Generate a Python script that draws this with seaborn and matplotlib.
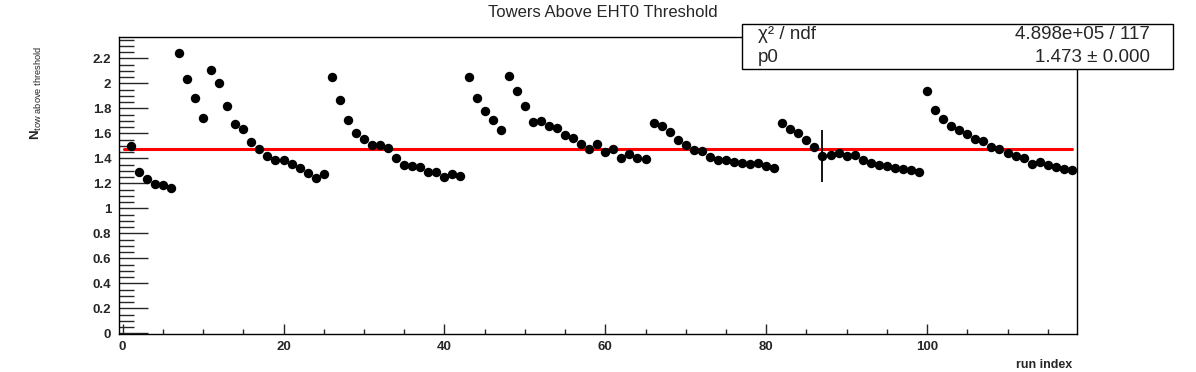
import numpy as np
import pandas as pd
import matplotlib
matplotlib.use("Agg")
import matplotlib.pyplot as plt
from matplotlib.ticker import MultipleLocator, FormatStrFormatter
from matplotlib.patches import Rectangle
import seaborn as sns

# run index and mean number of towers above EHT0 threshold
run_index = np.arange(1, 119)
n_tow = [
    1.501, 1.288, 1.234, 1.197, 1.184, 1.160, 2.240, 2.032, 1.880, 1.720,
    2.106, 2.000, 1.816, 1.672, 1.632, 1.528, 1.477, 1.418, 1.384, 1.384,
    1.352, 1.322, 1.280, 1.240, 1.272, 2.048, 1.864, 1.704, 1.602, 1.554,
    1.509, 1.509, 1.482, 1.402, 1.344, 1.338, 1.330, 1.288, 1.290, 1.248,
    1.274, 1.258, 2.048, 1.880, 1.778, 1.704, 1.626, 2.058, 1.936, 1.816,
    1.688, 1.698, 1.658, 1.640, 1.586, 1.560, 1.517, 1.477, 1.512, 1.453,
    1.474, 1.400, 1.432, 1.400, 1.392, 1.685, 1.658, 1.610, 1.546, 1.506,
    1.466, 1.458, 1.408, 1.386, 1.386, 1.368, 1.360, 1.352, 1.360, 1.338,
    1.320, 1.685, 1.637, 1.600, 1.550, 1.493, 1.418, 1.426, 1.442, 1.416,
    1.426, 1.386, 1.365, 1.344, 1.338, 1.325, 1.317, 1.304, 1.288, 1.936,
    1.789, 1.712, 1.658, 1.624, 1.594, 1.557, 1.538, 1.490, 1.477, 1.442,
    1.418, 1.400, 1.357, 1.373, 1.346, 1.328, 1.314, 1.304,
]
# only one run has a visible error bar
err_run = [87]
err_size = [0.21]

# constant fit
fit_p0 = 1.473
fit_range = [0.2, 118.0]
chi2_text = "4.898e+05 / 117"
p0_text = "1.473 \u00b1 0.000"

df = pd.DataFrame({"run": run_index, "ntow": n_tow})
fit_df = pd.DataFrame({"run": fit_range, "ntow": [fit_p0, fit_p0]})

sns.set_style("white")
plt.rcParams["font.family"] = ["Liberation Sans", "DejaVu Sans"]
plt.rcParams["mathtext.fontset"] = "custom"
plt.rcParams["mathtext.rm"] = "Liberation Sans"
plt.rcParams["mathtext.bf"] = "Liberation Sans:bold"
plt.rcParams["mathtext.it"] = "Liberation Sans:italic"

W, H = 1196, 372
fig = plt.figure(figsize=(W / 100, H / 100), dpi=100)
ax = fig.add_axes([119 / W, (H - 334) / H, (1076.7 - 119) / W, (334 - 37.3) / H])

# fit line
sns.lineplot(data=fit_df, x="run", y="ntow", color="#ff0000", linewidth=2.2,
             ax=ax, legend=False, zorder=2)

# error bars
err_y = [n_tow[r - 1] for r in err_run]
ax.errorbar(err_run, err_y, yerr=err_size, fmt="none", ecolor="black",
            elinewidth=1.3, capsize=0, zorder=3)

# points
sns.scatterplot(data=df, x="run", y="ntow", color="black", s=46,
                linewidth=0, marker="o", ax=ax, zorder=4)

ax.set_xlim(-0.45, 118.6)
ax.set_ylim(-0.005, 2.368)

ax.xaxis.set_major_locator(MultipleLocator(20))
ax.xaxis.set_minor_locator(MultipleLocator(5))
ax.yaxis.set_major_locator(MultipleLocator(0.2))
ax.yaxis.set_minor_locator(MultipleLocator(0.05))
ax.yaxis.set_major_formatter(FormatStrFormatter("%g"))

ax.tick_params(axis="y", which="major", direction="in", length=21, width=1,
               labelsize=9.5, pad=5.5, left=True, right=False)
ax.tick_params(axis="y", which="minor", direction="in", length=10.5, width=1,
               left=True, right=False)
ax.tick_params(axis="x", which="major", direction="in", length=7, width=1,
               labelsize=9.5, pad=5, bottom=True, top=False)
ax.tick_params(axis="x", which="minor", direction="in", length=3.3, width=1,
               bottom=True, top=False)
for lab in ax.get_xticklabels() + ax.get_yticklabels():
    lab.set_fontweight("bold")

for sp in ax.spines.values():
    sp.set_visible(True)
    sp.set_linewidth(1)
    sp.set_color("black")

ax.set_xlabel("run index", fontsize=9, fontweight="bold", loc="right")
ax.xaxis.set_label_coords(0.995, -0.085)
ax.set_ylabel(r"$\mathbf{N}_{\mathrm{tow\ above\ threshold}}$", fontsize=9.5,
              loc="top")
ax.yaxis.set_label_coords(-0.078, 0.97)

fig.text(603 / W, 1 - 12.5 / H, "Towers Above EHT0 Threshold", ha="center",
         va="center", fontsize=12)

# stats box
box = Rectangle((741.7 / W, 1 - 69 / H), (1173 - 741.7) / W, (69 - 23.5) / H,
                transform=fig.transFigure, facecolor="white", edgecolor="black",
                linewidth=1, zorder=10)
fig.add_artist(box)
fig.text(758 / W, 1 - 39 / H, "\u03c7\u00b2 / ndf", ha="left", va="baseline",
         fontsize=13.5, zorder=11)
fig.text(1150 / W, 1 - 39 / H, chi2_text, ha="right", va="baseline",
         fontsize=13.5, zorder=11)
fig.text(758 / W, 1 - 62.5 / H, "p0", ha="left", va="baseline", fontsize=13.5,
         zorder=11)
fig.text(1150 / W, 1 - 62.5 / H, p0_text, ha="right", va="baseline",
         fontsize=13.5, zorder=11)

fig.savefig("out.png", dpi=100)
